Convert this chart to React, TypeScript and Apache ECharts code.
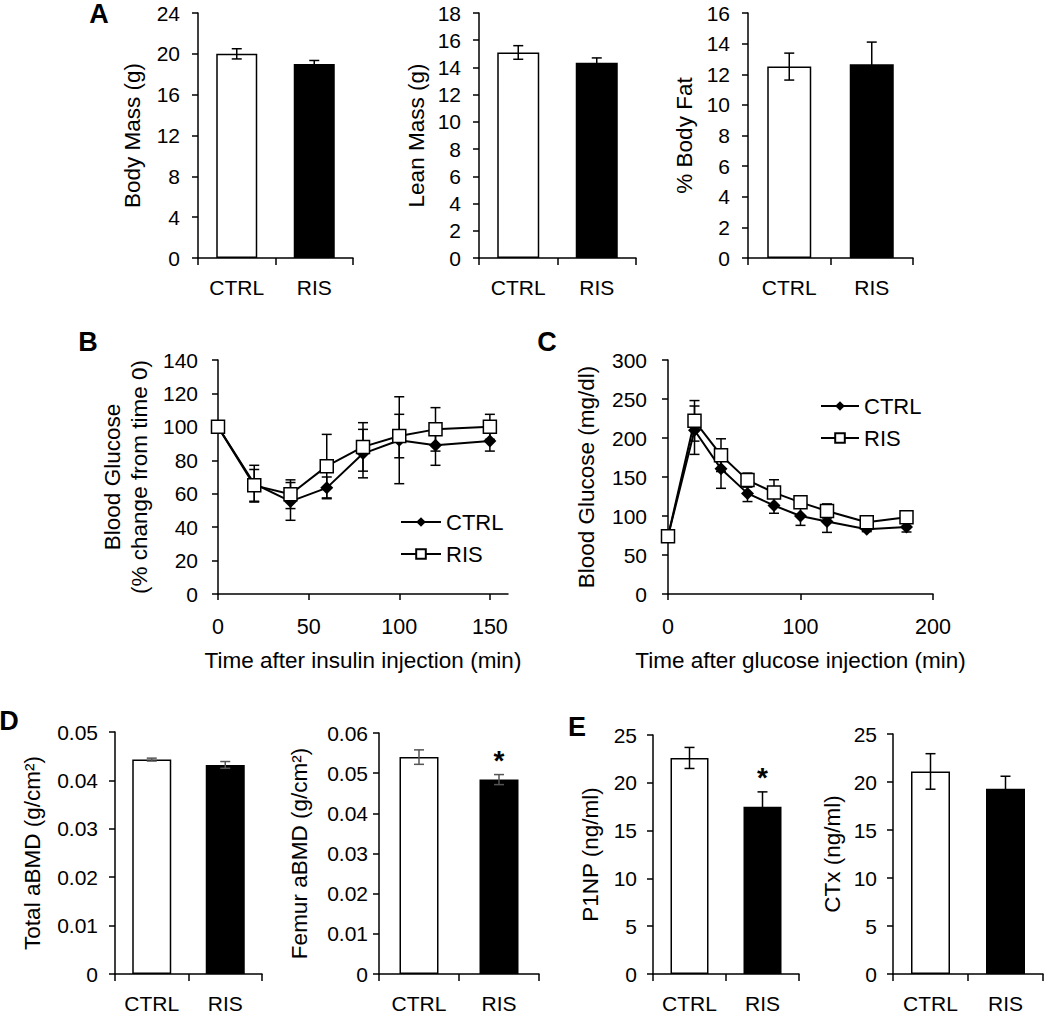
import React, { useEffect, useRef } from 'react';
import * as echarts from 'echarts';

const FONT = '"Liberation Sans", Arial, Helvetica, sans-serif';

// ---------- data ----------
const groups = ['CTRL', 'RIS'];

const bodyMass = [20.0, 19.0];
const bodyMassErr = [0.5, 0.35];
const leanMass = [15.1, 14.35];
const leanMassErr = [0.5, 0.35];
const bodyFat = [12.5, 12.65];
const bodyFatErr = [0.88, 1.45];

const totalBMD = [0.0443, 0.0432];
const totalBMDErr = [0.0003, 0.0007];
const femurBMD = [0.054, 0.0484];
const femurBMDErr = [0.0018, 0.00125];
const femurSig = [0, 1];

const p1np = [22.6, 17.5];
const p1npErr = [1.1, 1.55];
const p1npSig = [0, 1];
const ctx = [21.1, 19.3];
const ctxErr = [1.85, 1.3];

const ittTime = [0, 20, 40, 60, 80, 100, 120, 150];
const ittCtrl = [100, 66, 55.4, 63.5, 84, 92, 89, 91.5];
const ittCtrlErr = [0, 11, 11.3, 6.5, 14.5, 26, 12, 6];
const ittRis = [100, 65, 59.7, 76.5, 88, 94.5, 98.5, 100];
const ittRisErr = [0, 9.5, 8.6, 19, 14.5, 13, 13, 7.5];
const ittTicks = [0, 50, 100, 150];

const gttTime = [0, 20, 40, 60, 80, 100, 120, 150, 180];
const gttCtrl = [74, 210, 160.5, 129, 113.5, 100, 93, 83, 86];
const gttCtrlErr = [4, 31, 25, 10.5, 10, 12, 14, 3, 6.5];
const gttRis = [74, 222, 178, 146, 130, 117.5, 106.5, 92, 98.5];
const gttRisErr = [4, 26, 21, 9, 16.5, 6.5, 9, 4, 7];
const gttTicks = [0, 100, 200];

// ---------- layout / styling ----------
const TICK_FS = 21;
const NAME_FS = 22.5;
const CAT_FS = 21;

const barPanels = [
  { left: 198, top: 13, width: 155, height: 245, max: 24, interval: 4, name: 'Body Mass (g)', nameGap: 54, lm: 18, bw: 41, vals: bodyMass, errs: bodyMassErr, sig: [0, 0], ec: '#000' },
  { left: 479, top: 13, width: 157, height: 245, max: 18, interval: 2, name: 'Lean Mass (g)', nameGap: 51, lm: 18, bw: 42, vals: leanMass, errs: leanMassErr, sig: [0, 0], ec: '#000' },
  { left: 748, top: 13, width: 165, height: 245, max: 16, interval: 2, name: '% Body Fat', nameGap: 52, lm: 18, bw: 44, vals: bodyFat, errs: bodyFatErr, sig: [0, 0], ec: '#000' },
  { left: 115, top: 732, width: 147, height: 244, max: 0.05, interval: 0.01, name: 'Total aBMD (g/cm²)', nameGap: 71, lm: 17, bw: 39, vals: totalBMD, errs: totalBMDErr, sig: [0, 0], ec: '#555' },
  { left: 379, top: 733, width: 160, height: 241, max: 0.06, interval: 0.01, name: 'Femur aBMD (g/cm²)', nameGap: 68, lm: 11, bw: 39, vals: femurBMD, errs: femurBMDErr, sig: femurSig, ec: '#555' },
  { left: 653, top: 735, width: 146, height: 240, max: 25, interval: 5, name: 'P1NP (ng/ml)', nameGap: 51, lm: 16, bw: 38, vals: p1np, errs: p1npErr, sig: p1npSig, ec: '#000' },
  { left: 893, top: 734, width: 150, height: 241, max: 25, interval: 5, name: 'CTx (ng/ml)', nameGap: 49, lm: 16, bw: 39, vals: ctx, errs: ctxErr, sig: [0, 0], ec: '#000' },
];

const axisLineStyle = { color: '#000', width: 1.5 };

const errRender = (capW: number, color: string, lw: number) => (params: any, api: any) => {
  const x = api.value(0);
  const m = api.value(1);
  const e = api.value(2);
  const s = api.value(3);
  const hi = api.coord([x, m + e]);
  const lo = api.coord([x, m - e]);
  const children: any[] = [];
  if (e > 0) {
    const st = { stroke: color, lineWidth: lw };
    children.push({ type: 'line', shape: { x1: hi[0], y1: hi[1], x2: lo[0], y2: lo[1] }, style: st });
    children.push({ type: 'line', shape: { x1: hi[0] - capW / 2, y1: hi[1], x2: hi[0] + capW / 2, y2: hi[1] }, style: st });
    children.push({ type: 'line', shape: { x1: lo[0] - capW / 2, y1: lo[1], x2: lo[0] + capW / 2, y2: lo[1] }, style: st });
  }
  if (s) {
    children.push({
      type: 'text',
      style: { text: '*', x: hi[0], y: hi[1] - 14, align: 'center', verticalAlign: 'middle', fontSize: 28, fontWeight: 'bold', fontFamily: FONT, fill: '#000' },
    });
  }
  return { type: 'group', children };
};

function buildOption() {
  const grid: any[] = [];
  const xAxis: any[] = [];
  const yAxis: any[] = [];
  const series: any[] = [];

  barPanels.forEach((p, idx) => {
    grid.push({ left: p.left, top: p.top, width: p.width, height: p.height, containLabel: false });
    xAxis.push({
      type: 'category',
      gridIndex: idx,
      data: groups,
      axisLine: { show: true, lineStyle: axisLineStyle },
      axisTick: { show: true, alignWithLabel: false, length: 7, lineStyle: axisLineStyle },
      axisLabel: { color: '#000', fontSize: CAT_FS, fontFamily: FONT, margin: 19, interval: 0 },
      splitLine: { show: false },
    });
    yAxis.push({
      type: 'value',
      gridIndex: idx,
      min: 0,
      max: p.max,
      interval: p.interval,
      name: p.name,
      nameLocation: 'middle',
      nameRotate: 90,
      nameGap: p.nameGap,
      nameTextStyle: { color: '#000', fontSize: NAME_FS, fontFamily: FONT },
      axisLine: { show: true, lineStyle: axisLineStyle },
      axisTick: { show: true, length: 6, lineStyle: axisLineStyle },
      axisLabel: { color: '#000', fontSize: TICK_FS, fontFamily: FONT, margin: p.lm },
      splitLine: { show: false },
    });
    series.push({
      type: 'bar',
      name: 'bar' + idx,
      xAxisIndex: idx,
      yAxisIndex: idx,
      barWidth: p.bw,
      data: p.vals.map((v, i) => ({ value: v, itemStyle: { color: i === 0 ? '#fff' : '#000' } })),
      itemStyle: { borderColor: '#000', borderWidth: 1.5 },
      z: 1,
    });
    series.push({
      type: 'custom',
      name: 'err' + idx,
      xAxisIndex: idx,
      yAxisIndex: idx,
      renderItem: errRender(10, p.ec, 1.5),
      encode: { x: 0, y: 1 },
      data: p.vals.map((v, i) => [i, v, p.errs[i], p.sig[i]]),
      z: 3,
    });
  });

  // line panels
  const linePanels = [
    {
      left: 218, top: 360, width: 290, height: 234, xmax: 160, xint: 50, xticks: ittTicks,
      ymax: 140, yint: 20, yname: 'Blood Glucose\n(% change from time 0)', ynameGap: 65, ylm: 20,
      xname: 'Time after insulin injection (min)', t: ittTime, c: ittCtrl, ce: ittCtrlErr, r: ittRis, re: ittRisErr,
    },
    {
      left: 668, top: 360, width: 265, height: 234, xmax: 200, xint: 100, xticks: gttTicks,
      ymax: 300, yint: 50, yname: 'Blood Glucose (mg/dl)', ynameGap: 68, ylm: 21,
      xname: 'Time after glucose injection (min)', t: gttTime, c: gttCtrl, ce: gttCtrlErr, r: gttRis, re: gttRisErr,
    },
  ];

  linePanels.forEach((p) => {
    const idx = grid.length;
    grid.push({ left: p.left, top: p.top, width: p.width, height: p.height, containLabel: false });
    xAxis.push({
      type: 'value',
      gridIndex: idx,
      min: 0,
      max: p.xmax,
      interval: p.xint,
      name: p.xname,
      nameLocation: 'middle',
      nameGap: 55,
      nameTextStyle: { color: '#000', fontSize: NAME_FS, fontFamily: FONT },
      axisLine: { show: true, lineStyle: axisLineStyle },
      axisTick: { show: true, length: 6, lineStyle: axisLineStyle, customValues: p.xticks },
      axisLabel: {
        color: '#000', fontSize: 21.5, fontFamily: FONT, margin: 22, customValues: p.xticks,
        formatter: (v: number) => (p.xticks.indexOf(v) >= 0 ? String(v) : ''),
      },
      splitLine: { show: false },
    });
    yAxis.push({
      type: 'value',
      gridIndex: idx,
      min: 0,
      max: p.ymax,
      interval: p.yint,
      name: p.yname,
      nameLocation: 'middle',
      nameRotate: 90,
      nameGap: p.ynameGap,
      nameTextStyle: { color: '#000', fontSize: NAME_FS, fontFamily: FONT, lineHeight: 27 },
      axisLine: { show: true, lineStyle: axisLineStyle },
      axisTick: { show: true, length: 6, lineStyle: axisLineStyle },
      axisLabel: { color: '#000', fontSize: TICK_FS, fontFamily: FONT, margin: p.ylm },
      splitLine: { show: false },
    });
    series.push({
      type: 'custom',
      name: 'errC' + idx,
      xAxisIndex: idx,
      yAxisIndex: idx,
      renderItem: errRender(10, '#000', 1.5),
      encode: { x: 0, y: 1 },
      data: p.t.map((t, i) => [t, p.c[i], p.ce[i], 0]),
      z: 1,
    });
    series.push({
      type: 'custom',
      name: 'errR' + idx,
      xAxisIndex: idx,
      yAxisIndex: idx,
      renderItem: errRender(10, '#000', 1.5),
      encode: { x: 0, y: 1 },
      data: p.t.map((t, i) => [t, p.r[i], p.re[i], 0]),
      z: 1,
    });
    series.push({
      type: 'line',
      name: 'CTRL',
      xAxisIndex: idx,
      yAxisIndex: idx,
      data: p.t.map((t, i) => [t, p.c[i]]),
      symbol: 'diamond',
      symbolSize: 13,
      itemStyle: { color: '#000' },
      lineStyle: { color: '#000', width: 2 },
      z: 2,
    });
    series.push({
      type: 'line',
      name: 'RIS',
      xAxisIndex: idx,
      yAxisIndex: idx,
      data: p.t.map((t, i) => [t, p.r[i]]),
      symbol: 'rect',
      symbolSize: 13,
      showAllSymbol: true,
      itemStyle: { color: '#fff', borderColor: '#000', borderWidth: 1.5 },
      lineStyle: { color: '#000', width: 2 },
      z: 3,
    });
  });

  const legendBase = {
    data: ['CTRL', 'RIS'],
    orient: 'vertical',
    itemWidth: 40,
    itemHeight: 12,
    itemGap: 10,
    selectedMode: false,
    textStyle: { color: '#000', fontSize: 22, fontFamily: FONT },
  };

  const letter = (t: string, x: number, y: number) => ({
    type: 'text',
    x,
    y,
    style: { text: t, align: 'center', verticalAlign: 'middle', fontSize: 27, fontWeight: 'bold', fontFamily: FONT, fill: '#000' },
  });

  return {
    animation: false,
    backgroundColor: '#fff',
    grid,
    xAxis,
    yAxis,
    series,
    legend: [
      { ...legendBase, left: 395, top: 506 },
      { ...legendBase, left: 815, top: 390, itemWidth: 38 },
    ],
    graphic: [
      letter('A', 99, 14),
      letter('B', 88, 342),
      letter('C', 547, 342),
      letter('D', 9, 721),
      letter('E', 577, 727),
    ],
  };
}

export default function App() {
  const ref = useRef<HTMLDivElement>(null);
  useEffect(() => {
    const chart = echarts.init(ref.current!, null, { renderer: 'svg' });
    chart.setOption(buildOption() as any);
    return () => chart.dispose();
  }, []);
  return (
    <div
      ref={ref}
      style={{ position: 'absolute', left: 0, top: 0, width: 1050, height: 1014, background: '#fff' }}
    />
  );
}
